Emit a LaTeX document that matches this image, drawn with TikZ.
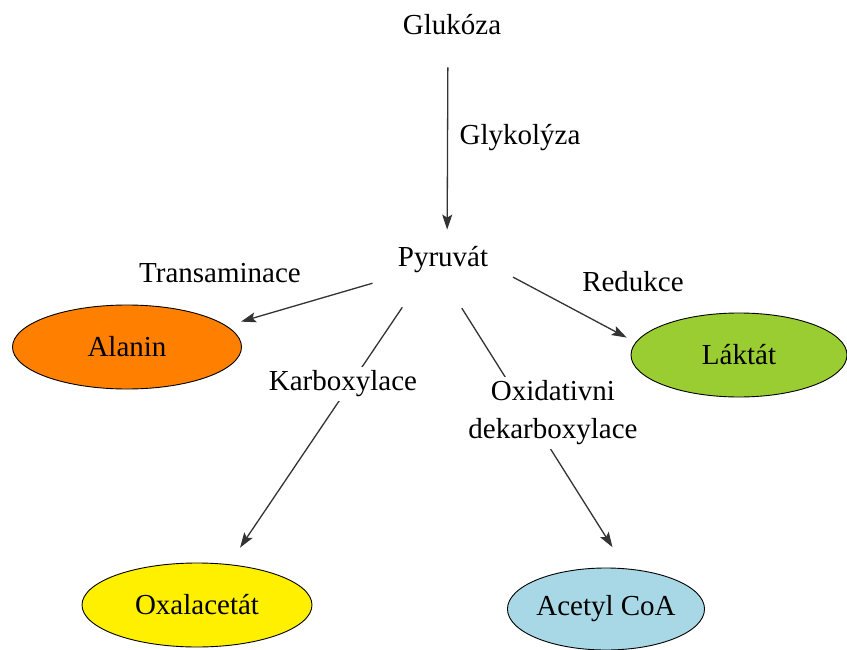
\documentclass[tikz,border=0pt]{standalone}
\usepackage{fontspec}
\setmainfont{Liberation Serif}
\newfontfamily\diagfont{Liberation Serif}
\usetikzlibrary{shapes.geometric, arrows.meta, calc}
\definecolor{alaninorange}{HTML}{FF8000}
\definecolor{laktatgreen}{HTML}{9ACD32}
\definecolor{oxayellow}{HTML}{FFF000}
\definecolor{acetylblue}{HTML}{A8D8E6}
\definecolor{arrowgray}{HTML}{333333}

\begin{document}
\begin{tikzpicture}[x=1pt, y=-1pt,
  txt/.style={font=\diagfont\fontsize{29}{38}\selectfont, inner sep=0pt},
  metab/.style={ellipse, draw=black, line width=0.9pt, txt, minimum height=84pt},
  arr/.style={-{Stealth[length=15pt, width=10pt, inset=3pt]}, draw=arrowgray, line width=1.3pt},
  lbl/.style={txt, fill=white, inner sep=4pt}]
  \useasboundingbox (0,0) rectangle (847,650);

  % Main chain
  \node[txt] (glu) at (452,25) {Glukóza};
  \node[txt] (pyr) at (443,260) {Pyruvát};

  % Products
  \node[metab, fill=alaninorange, minimum width=229pt] (ala) at (127,347) {Alanin};
  \node[metab, fill=laktatgreen, minimum width=216pt] (lak) at (739,355) {Láktát};
  \node[metab, fill=oxayellow, minimum width=230pt] (oxa) at (197,605) {Oxalacetát};
  \node[metab, fill=acetylblue, minimum width=178pt, minimum height=82pt] (ace) at (606,609) {Acetyl CoA};

  % Reactions
  \draw[arr, shorten <=32pt, shorten >=17pt] (glu.-111) -- (pyr.73);
  \draw[arr, shorten <=35pt, shorten >=15pt] (pyr.200) -- (ala.12);
  \draw[arr, shorten <=28pt, shorten >=10pt] (pyr.-5) -- (lak.173);
  \draw[arr, shorten <=41pt, shorten >=20pt] (pyr.217) -- (oxa.52);
  \draw[arr, shorten <=41pt, shorten >=25pt] (pyr.257) -- (ace.64);

  % Labels
  \node[txt] (glyk) at (520,138) {Glykolýza};
  \node[txt] (trans) at (220,273) {Transaminace};
  \node[txt] (red) at (633,282) {Redukce};
  \node[lbl] (karb) at (343,384) {Karboxylace};
  \node[lbl, align=center] (oxid) at (553,413) {Oxidativni\\dekarboxylace};
\end{tikzpicture}
\end{document}
